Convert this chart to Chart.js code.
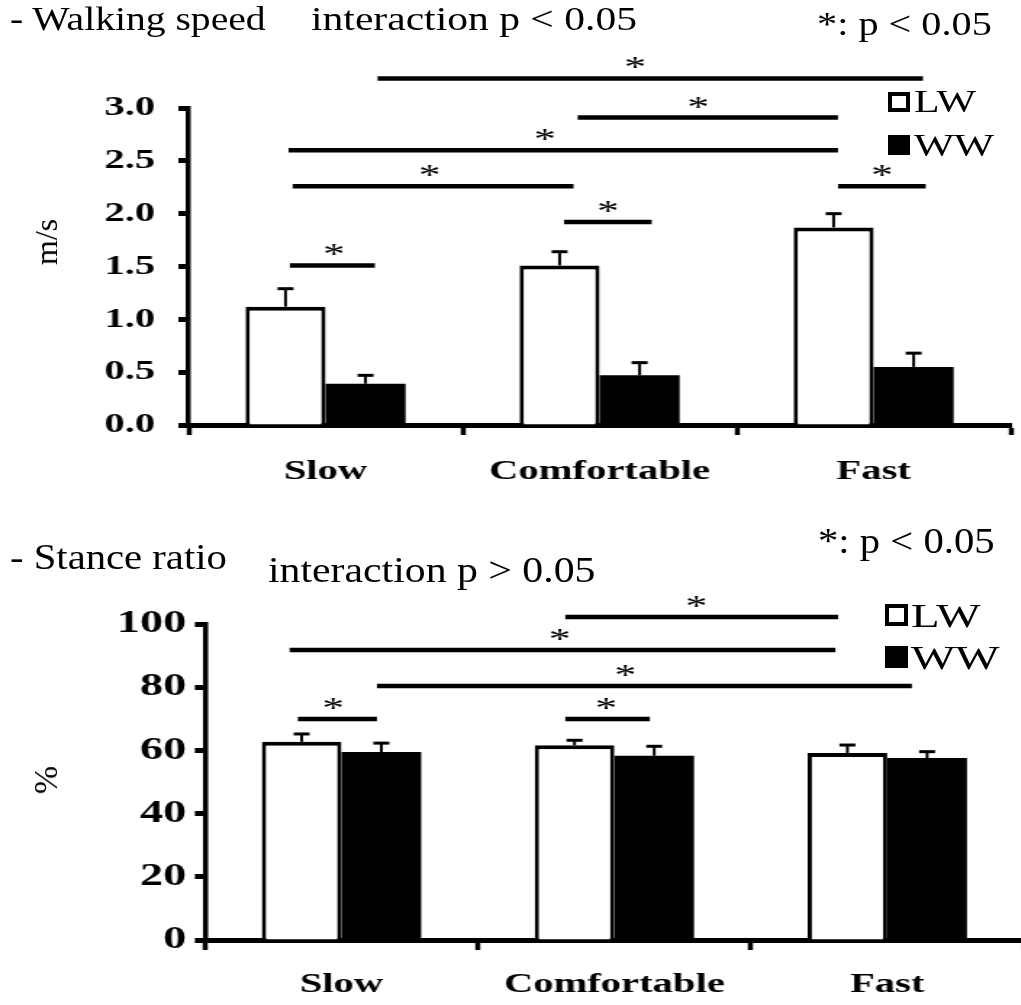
<!DOCTYPE html>
<html>
<head>
<meta charset="utf-8">
<title>Walking speed and stance ratio</title>
<script src="https://cdn.jsdelivr.net/npm/chart.js@4.4.1/dist/chart.umd.min.js"></script>
<style>
  html, body { margin: 0; padding: 0; background: #fff; }
  body { width: 1021px; height: 1005px; position: relative; overflow: hidden;
         font-family: 'Liberation Serif', 'Times New Roman', serif; color: #000; }
  /* the figure is stretched sideways, so each panel is drawn narrow and scaled */
  .panel { position: absolute; left: 0; width: 710px; transform: scaleX(1.45); transform-origin: 0 0; }
  .txt { position: absolute; white-space: nowrap; line-height: 1; transform-origin: 0 0; }
  .sq { position: absolute; box-sizing: border-box; border: 4px solid #000; }
  .rot { position: absolute; white-space: nowrap; line-height: 1; transform: translate(-50%, -50%) rotate(-90deg); }
</style>
</head>
<body>

<div class="panel" style="top:0; height:500px;"><canvas id="speed"></canvas></div>
<div class="panel" style="top:530px; height:475px;"><canvas id="stance"></canvas></div>

<!-- top panel texts -->
<div class="txt" style="left:10px; top:3px; font-size:33px; transform:scaleX(1.2)">- Walking speed</div>
<div class="txt" style="left:311px; top:3px; font-size:33px; transform:scaleX(1.26)">interaction p &lt; 0.05</div>
<div class="txt" style="left:817px; top:8px; font-size:33px; transform:scaleX(1.22)">*: p &lt; 0.05</div>
<div class="rot" style="left:46px; top:242px; font-size:32px;">m/s</div>
<div class="sq" style="left:888px; top:92px; width:22px; height:20px; background:#fff;"></div>
<div class="sq" style="left:888px; top:135px; width:22px; height:20px; background:#000;"></div>
<div class="txt" style="left:914px; top:86px; font-size:31px; transform:scaleX(1.35)">LW</div>
<div class="txt" style="left:914px; top:130px; font-size:31px; transform:scaleX(1.37)">WW</div>

<!-- bottom panel texts -->
<div class="txt" style="left:10px; top:539px; font-size:36px; transform:scaleX(1.13)">- Stance ratio</div>
<div class="txt" style="left:268px; top:552px; font-size:36px; transform:scaleX(1.16)">interaction p &gt; 0.05</div>
<div class="txt" style="left:818px; top:523px; font-size:36px; transform:scaleX(1.13)">*: p &lt; 0.05</div>
<div class="rot" style="left:46px; top:780px; font-size:34px;">%</div>
<div class="sq" style="left:885px; top:604px; width:23px; height:22px; background:#fff;"></div>
<div class="sq" style="left:885px; top:646px; width:23px; height:22px; background:#000;"></div>
<div class="txt" style="left:911px; top:600px; font-size:33px; transform:scaleX(1.42)">LW</div>
<div class="txt" style="left:911px; top:642px; font-size:33px; transform:scaleX(1.42)">WW</div>

<script>
const FONT = "'Liberation Serif', 'Times New Roman', serif";

const categories = ["Slow", "Comfortable", "Fast"];

// walking speed, m/s
const speedLW = [1.12, 1.51, 1.87];
const speedLWErr = [0.17, 0.13, 0.13];
const speedWW = [0.39, 0.47, 0.55];
const speedWWErr = [0.08, 0.12, 0.13];
const speedTicks = [0, 0.5, 1.0, 1.5, 2.0, 2.5, 3.0];
// significance bars: [from category, to category, height, asterisk position]
const speedSig = [
  [0.19, 2.18, 3.28, 1.13],
  [0.92, 1.87, 2.91, 1.36],
  [-0.135, 1.87, 2.6, 0.8],
  [-0.12, 0.905, 2.26, 0.38],
  [1.87, 2.19, 2.26, 2.03],
  [0.87, 1.19, 1.92, 1.03],
  [-0.13, 0.18, 1.51, 0.03],
];

// stance ratio, %
const stanceLW = [62.7, 61.6, 59.2];
const stanceLWErr = [2.5, 1.6, 2.5];
const stanceWW = [59.5, 58.3, 57.6];
const stanceWWErr = [2.8, 3.0, 2.0];
const stanceTicks = [0, 20, 40, 60, 80, 100];
const stanceSig = [
  [0.82, 1.82, 102.2, 1.3],
  [-0.19, 1.81, 91.8, 0.8],
  [0.13, 2.09, 80.4, 1.04],
  [-0.16, 0.13, 69.9, -0.03],
  [0.82, 1.13, 69.9, 0.97],
];

function errorBars(errs) {
  return {
    id: "errorBars",
    afterDatasetsDraw(chart) {
      const ctx = chart.ctx;
      const y = chart.scales.y;
      ctx.save();
      ctx.strokeStyle = "#000";
      chart.data.datasets.forEach((ds, i) => {
        chart.getDatasetMeta(i).data.forEach((bar, j) => {
          const top = y.getPixelForValue(ds.data[j] + errs[i][j]);
          ctx.lineWidth = 2;
          ctx.beginPath();
          ctx.moveTo(bar.x, bar.y);
          ctx.lineTo(bar.x, top);
          ctx.stroke();
          ctx.lineWidth = 3;
          ctx.beginPath();
          ctx.moveTo(bar.x - 5.5, top);
          ctx.lineTo(bar.x + 5.5, top);
          ctx.stroke();
        });
      });
      ctx.restore();
    },
  };
}

function sigBars(list) {
  return {
    id: "sigBars",
    afterDraw(chart) {
      const { ctx } = chart;
      const x = chart.scales.x, y = chart.scales.y;
      ctx.save();
      ctx.strokeStyle = "#000";
      ctx.fillStyle = "#000";
      ctx.lineWidth = 4.5;
      ctx.font = "30px " + FONT;
      ctx.textAlign = "center";
      list.forEach(([a, b, v, star]) => {
        const x1 = x.getPixelForValue(a);
        const x2 = x.getPixelForValue(b);
        const yy = y.getPixelForValue(v);
        ctx.beginPath();
        ctx.moveTo(x1, yy);
        ctx.lineTo(x2, yy);
        ctx.stroke();
        ctx.fillText("*", x.getPixelForValue(star), yy - 2);
      });
      ctx.restore();
    },
  };
}

function makeChart(id, o) {
  return new Chart(document.getElementById(id), {
    type: "bar",
    data: {
      labels: categories,
      datasets: [
        {
          label: "LW",
          data: o.lw,
          backgroundColor: "#fff",
          borderColor: "#000",
          borderWidth: { top: 4, left: 3, right: 3, bottom: 0 },
        },
        {
          label: "WW",
          data: o.ww,
          backgroundColor: "#000",
          borderColor: "#000",
          borderWidth: 0,
        },
      ],
    },
    options: {
      responsive: true,
      maintainAspectRatio: false,
      animation: false,
      layout: { padding: { top: o.padTop, right: o.padRight, left: 0, bottom: 0 } },
      datasets: { bar: { categoryPercentage: 0.584, barPercentage: 1 } },
      plugins: {
        legend: { display: false },
        tooltip: { enabled: false },
      },
      scales: {
        x: {
          grid: { drawOnChartArea: false, offset: true, tickLength: 10, tickWidth: 3.5, tickColor: "#000" },
          border: { color: "#000", width: 5 },
          ticks: {
            color: "#000",
            font: { family: FONT, size: 28, weight: "bold" },
            padding: o.xPad,
            maxRotation: 0,
          },
          afterFit: (s) => { s.height = o.xHeight; },
        },
        y: {
          min: 0,
          max: o.max,
          afterBuildTicks: (s) => { s.ticks = o.ticks.map((v) => ({ value: v })); },
          grid: { drawOnChartArea: false, tickLength: 7, tickWidth: 5, tickColor: "#000" },
          border: { color: "#000", width: 3.5 },
          ticks: {
            color: "#000",
            font: { family: FONT, size: o.yFont, weight: "bold" },
            padding: o.yPad,
            callback: o.fmt,
          },
          afterFit: (s) => { s.width = o.yWidth; },
        },
      },
    },
    plugins: [errorBars([o.lwErr, o.wwErr]), sigBars(o.sig)],
  });
}

makeChart("speed", {
  lw: speedLW, lwErr: speedLWErr, ww: speedWW, wwErr: speedWWErr,
  ticks: speedTicks, sig: speedSig, max: 3,
  fmt: (v) => Number(v).toFixed(1),
  padTop: 108, padRight: 13, xHeight: 75, xPad: 20, yWidth: 130, yFont: 28, yPad: 16,
});

makeChart("stance", {
  lw: stanceLW, lwErr: stanceLWErr, ww: stanceWW, wwErr: stanceWWErr,
  ticks: stanceTicks, sig: stanceSig, max: 100,
  fmt: (v) => v,
  padTop: 94, padRight: 4, xHeight: 65, xPad: 18, yWidth: 141.4, yFont: 32, yPad: 6,
});
</script>
</body>
</html>
